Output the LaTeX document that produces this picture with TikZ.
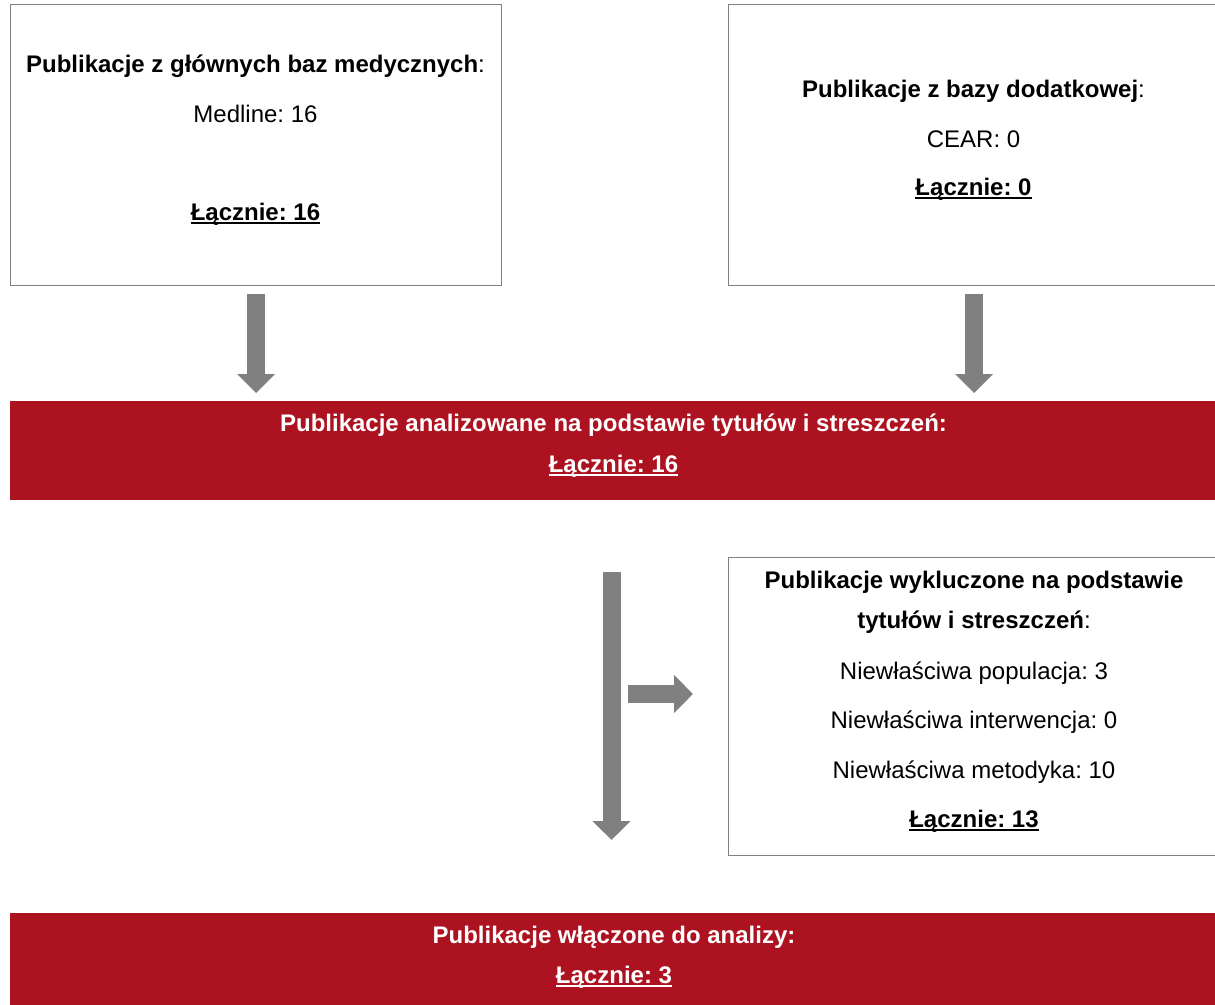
\documentclass[tikz,border=0pt]{standalone}
\usepackage{fontspec}
\setmainfont{Liberation Sans}
\usetikzlibrary{arrows.meta}
\definecolor{pubred}{RGB}{172,18,32}
\definecolor{arrowgray}{RGB}{128,128,128}
\newcommand{\totline}[1]{\setbox0\hbox{\textbf{#1}}\rlap{\rule[-3.6pt]{\wd0}{1.8pt}}\box0}
\frenchspacing
\begin{document}
\begin{tikzpicture}[x=1pt, y=-1pt,
  every node/.style = {inner sep=0pt, font=\fontsize{24}{29}\selectfont},
  txt/.style = {anchor=base},
  srcbox/.style = {draw=gray, line width=1.2pt, anchor=north west,
    minimum width=491pt},
  redbar/.style = {fill=pubred, anchor=north west,
    minimum width=1207pt, minimum height=99pt},
  fat/.style = {draw=arrowgray, line width=18pt,
    -{Triangle[width=37pt, length=19pt]}}]
  \useasboundingbox (0,0) rectangle (1215,1004);
  \node[srcbox, minimum height=281pt] (main) at (10,4) {};
  \node[txt] (mainhead) at (255.5,72.5) {\textbf{Publikacje z głównych baz medycznych}:};
  \node[txt] (mainmed) at (255.5,122.5) {Medline: 16};
  \node[txt] (maintot) at (255.5,220.5) {\totline{Łącznie: 16}};
  \node[srcbox, minimum height=281pt] (extra) at (728,4) {};
  \node[txt] (extrahead) at (973.5,97.5) {\textbf{Publikacje z bazy dodatkowej}:};
  \node[txt] (extracear) at (973.5,147.5) {CEAR: 0};
  \node[txt] (extratot) at (973.5,195.5) {\totline{Łącznie: 0}};
  \node[redbar] (screen) at (10,401) {};
  \node[txt, text=white] (screenhead) at (613.5,431.5) {\textbf{Publikacje analizowane na podstawie tytułów i streszczeń:}};
  \node[txt, text=white] (screentot) at (613.5,472.5) {\totline{Łącznie: 16}};
  \node[srcbox, minimum height=298pt] (excl) at (728,557) {};
  \node[txt] (exclhead) at (974,588.5) {\textbf{Publikacje wykluczone na podstawie}};
  \node[txt] (exclhead2) at (974,628.5) {\textbf{tytułów i streszczeń}:};
  \node[txt] (exclpop) at (974,679.5) {Niewłaściwa populacja: 3};
  \node[txt] (exclint) at (974,728.5) {Niewłaściwa interwencja: 0};
  \node[txt] (exclmet) at (974,778.5) {Niewłaściwa metodyka: 10};
  \node[txt] (excltot) at (974,827.5) {\totline{Łącznie: 13}};
  \node[redbar] (incl) at (10,913) {};
  \node[txt, text=white] (inclhead) at (614,943.5) {\textbf{Publikacje włączone do analizy:}};
  \node[txt, text=white] (incltot) at (614,983.5) {\totline{Łącznie: 3}};
  \draw[fat, shorten <=8pt, shorten >=8pt] (main.south) -- (main.south |- screen.north);
  \draw[fat, shorten <=8pt, shorten >=8pt] (extra.south) -- (extra.south |- screen.north);
  \coordinate (flowtop) at (611.5,572);
  \coordinate (flowend) at (611.5,840);
  \draw[fat] (flowtop) -- (flowend);
  \coordinate (flowside) at (628,694);
  \draw[fat, shorten >=35pt] (flowside) -- (flowside -| excl.west);
\end{tikzpicture}
\end{document}
